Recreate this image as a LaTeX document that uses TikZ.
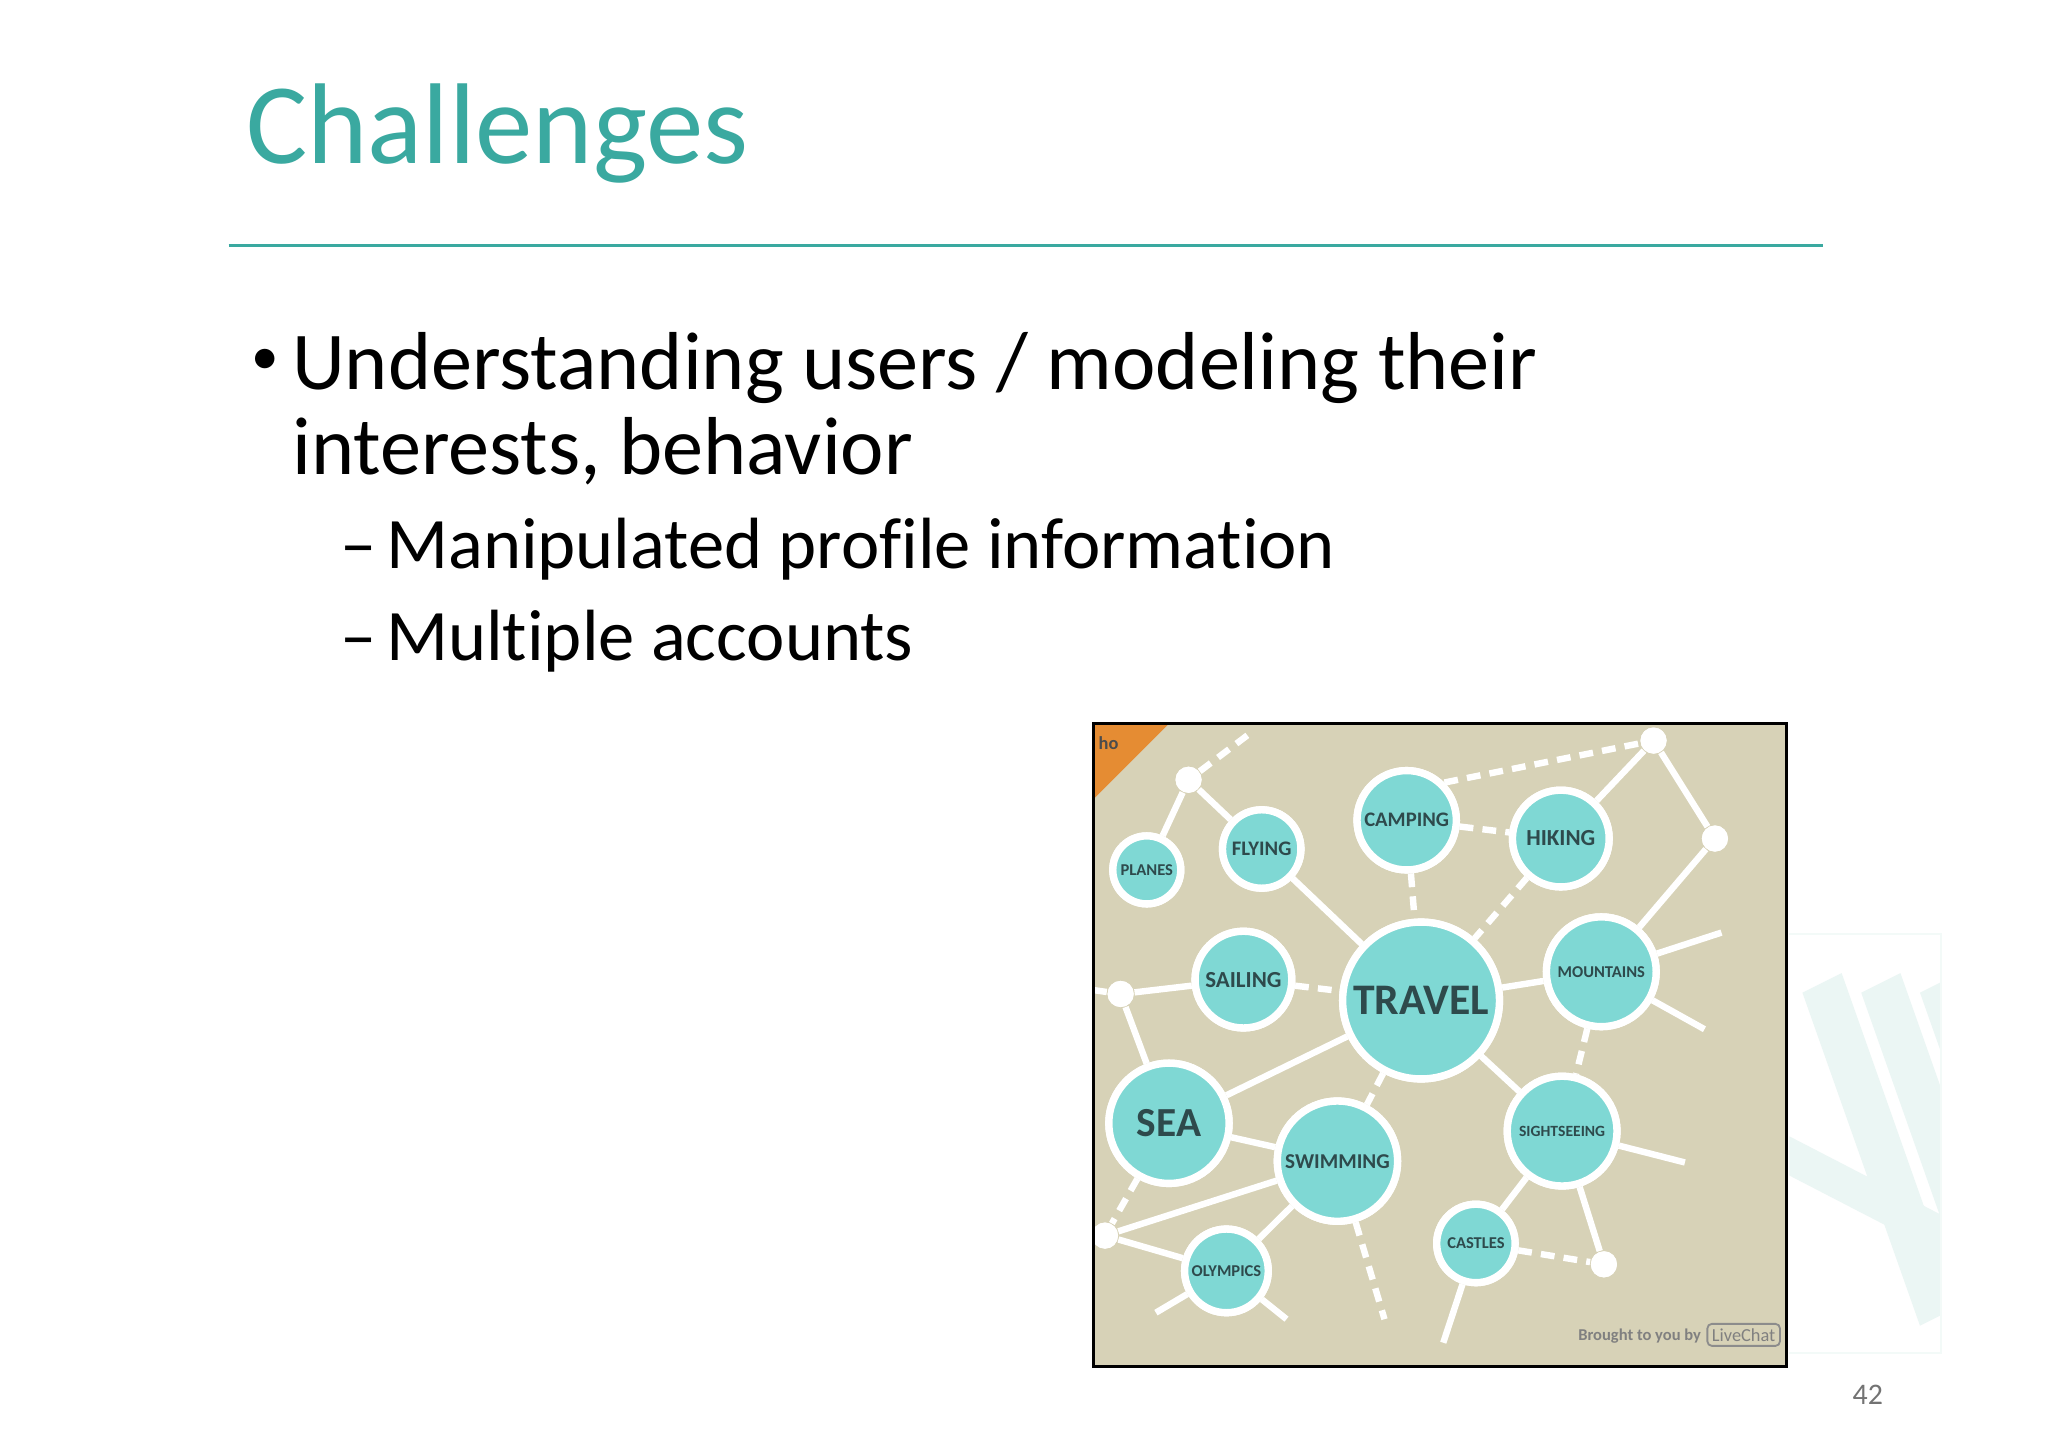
\documentclass[tikz,border=0pt]{standalone}
\usepackage{fontspec}
\setmainfont{Carlito}[Ligatures=NoCommon]
\begin{document}
\begin{tikzpicture}[x=0.01cm,y=-0.01cm,
  bub/.style={circle,draw=white,line width=1.6pt,fill=bubfill,text=bubtext,font=\bfseries,inner sep=0pt},
  dot/.style={circle,fill=white,inner sep=0pt,minimum size=0.2cm},
  ln/.style={white,line width=1.4pt},
  dl/.style={white,line width=1.4pt,dash pattern=on 3pt off 2pt}]
\definecolor{teal}{HTML}{3AA9A0}
\definecolor{bg}{HTML}{D7D2B7}
\definecolor{bubfill}{HTML}{7FD8D4}
\definecolor{bubtext}{HTML}{2E4A4C}
\definecolor{stripe}{HTML}{EBF6F4}
\useasboundingbox (0,0) rectangle (1568,1108);
\fill[white] (0,0) rectangle (1568,1108);
% title
\node[anchor=base west,inner sep=0pt,text=teal,font=\fontsize{25}{30}\selectfont] (title) at (188,125) {Challenges};
\draw[teal,line width=0.5pt] (175,188) coordinate (r1) -- (1396,188) coordinate (r2);
% bullets
\node[anchor=base west,inner sep=0pt,font=\fontsize{12}{14}\selectfont] (b) at (192,287) {•};
\node[anchor=base west,inner sep=0pt,font=\fontsize{17.9}{22}\selectfont] (l1) at (223,298) {Understanding users / modeling their};
\node[anchor=base west,inner sep=0pt,font=\fontsize{17.9}{22}\selectfont] (l2) at (223,363) {interests, behavior};
\node[anchor=base west,inner sep=0pt,font=\fontsize{15.8}{20}\selectfont] (d1t) at (260,435) {–};
\node[anchor=base west,inner sep=0pt,font=\fontsize{15.8}{20}\selectfont] (s1) at (295,435) {Manipulated profile information};
\node[anchor=base west,inner sep=0pt,font=\fontsize{15.8}{20}\selectfont] (d2t) at (260,506) {–};
\node[anchor=base west,inner sep=0pt,font=\fontsize{15.8}{20}\selectfont] (s2) at (295,506) {Multiple accounts};
% decoration stripes
\begin{scope}
\clip (1370,715) rectangle (1486,1036);
\foreach \dx in {0,45,90,135}{
  \fill[stripe] (1380+\dx,760) -- (1410+\dx,745) -- (1500+\dx,1000) -- (1470+\dx,1015) -- cycle;}
\fill[stripe] (1370,870) -- (1486,930) -- (1486,960) -- (1370,900) -- cycle;
\end{scope}
\draw[stripe!60!white] (1370,715) -- (1486,715) -- (1486,1036) -- (1370,1036);
\node[text=black!55,font=\fontsize{6.5}{8}\selectfont,inner sep=0pt] (pg) at (1430,1068) {42};
% image
\fill[bg] (837,554) rectangle (1368,1046);
\fill[orange!55!brown!90!white] (837,554) -- (895,554) -- (837,612) -- cycle;
\node[anchor=north west,inner sep=1pt,font=\bfseries\fontsize{4}{5}\selectfont,text=black!70] (ho) at (837,560) {ho};
\node[dot] (d1) at (910,597) {};
\node[dot] (d2) at (1266,567) {};
\node[dot] (d3) at (1313,642) {};
\node[dot] (d4) at (858,761) {};
\node[dot] (d5) at (1228,968) {};
\node[dot] (d6) at (846,946) {};
\coordinate (e1) at (955,563);
\coordinate (e2) at (1318,714);
\coordinate (e3) at (1305,788);
\coordinate (e4) at (830,757);
\coordinate (e5) at (1060,1010);
\coordinate (e6) at (830,950);
\coordinate (e7) at (885,1005);
\coordinate (e8) at (985,1010);
\coordinate (e9) at (1290,890);
\coordinate (e10) at (1105,1028);
\node[bub,minimum size=0.52cm,font=\bfseries\fontsize{3.6}{4}\selectfont] (planes) at (878,666) {PLANES};
\node[bub,minimum size=0.6cm,font=\bfseries\fontsize{4.5}{5}\selectfont] (flying) at (966,650) {FLYING};
\node[bub,minimum size=0.76cm,font=\bfseries\fontsize{4.5}{5}\selectfont] (camping) at (1077,628) {CAMPING};
\node[bub,minimum size=0.74cm,font=\bfseries\fontsize{5}{6}\selectfont] (hiking) at (1195,642) {HIKING};
\node[bub,minimum size=0.74cm,font=\bfseries\fontsize{5}{6}\selectfont] (sailing) at (952,750) {SAILING};
\node[bub,minimum size=1.2cm,font=\bfseries\fontsize{9.5}{10}\selectfont] (travel) at (1088,766) {TRAVEL};
\node[bub,minimum size=0.84cm,font=\bfseries\fontsize{3.6}{4}\selectfont] (mount) at (1226,744) {MOUNTAINS};
\node[bub,minimum size=0.92cm,font=\bfseries\fontsize{9}{10}\selectfont] (sea) at (895,860) {SEA};
\node[bub,minimum size=0.92cm,font=\bfseries\fontsize{4.6}{5}\selectfont] (swim) at (1024,889) {SWIMMING};
\node[bub,minimum size=0.84cm,font=\bfseries\fontsize{3.4}{4}\selectfont] (sight) at (1196,866) {SIGHTSEEING};
\node[bub,minimum size=0.6cm,font=\bfseries\fontsize{3.6}{4}\selectfont] (castles) at (1130,952) {CASTLES};
\node[bub,minimum size=0.64cm,font=\bfseries\fontsize{3.6}{4}\selectfont] (olym) at (939,973) {OLYMPICS};
\begin{scope}
\clip (837,554) rectangle (1368,1046);
\draw[ln] (planes) -- (d1);
\draw[ln] (flying) -- (d1);
\draw[dl] (d1) -- (e1);
\draw[ln] (flying) -- (travel);
\draw[dl] (camping) -- (travel);
\draw[dl] (camping) -- (hiking);
\draw[dl] (camping.north east) -- (d2);
\draw[ln] (hiking) -- (d2);
\draw[dl] (hiking) -- (travel);
\draw[ln] (d2) -- (d3);
\draw[ln] (d3) -- (mount);
\draw[ln] (mount) -- (travel);
\draw[ln] (mount) -- (e2);
\draw[ln] (mount) -- (e3);
\draw[dl] (mount) -- (sight);
\draw[ln] (sailing) -- (d4);
\draw[dl] (sailing) -- (travel);
\draw[ln] (d4) -- (e4);
\draw[ln] (d4) -- (sea);
\draw[ln] (sea) -- (travel);
\draw[ln] (sea) -- (swim);
\draw[dl] (sea) -- (d6);
\draw[dl] (travel) -- (swim);
\draw[ln] (travel) -- (sight);
\draw[ln] (swim) -- (d6);
\draw[ln] (swim) -- (olym);
\draw[dl] (swim) -- (e5);
\draw[ln] (d6) -- (olym);
\draw[ln] (d6) -- (e6);
\draw[ln] (olym) -- (e7);
\draw[ln] (olym) -- (e8);
\draw[ln] (sight) -- (castles);
\draw[ln] (sight) -- (e9);
\draw[ln] (sight) -- (d5);
\draw[dl] (castles) -- (d5);
\draw[ln] (castles) -- (e10);
\foreach \p/\s/\f/\t in {{878,666}/0.52/3.6/PLANES, {966,650}/0.6/4.5/FLYING, {1077,628}/0.76/4.5/CAMPING, {1195,642}/0.74/5/HIKING, {952,750}/0.74/5/SAILING, {1088,766}/1.2/9.5/TRAVEL, {1226,744}/0.84/3.6/MOUNTAINS, {895,860}/0.92/9/SEA, {1024,889}/0.92/4.6/SWIMMING, {1196,866}/0.84/3.4/SIGHTSEEING, {1130,952}/0.6/3.6/CASTLES, {939,973}/0.64/3.6/OLYMPICS}
  \node[bub,minimum size=\s cm,font=\bfseries\fontsize{\f}{5}\selectfont] at (\p) {\t};
\foreach \p in {{910,597},{1266,567},{1313,642},{858,761},{1228,968},{846,946}}
  \node[dot] at (\p) {};
\end{scope}
\node[anchor=base east,inner sep=0pt,text=black!50,font=\bfseries\fontsize{3.6}{4}\selectfont] (bt) at (1303,1026) {Brought to you by};
\node[draw=black!45,rounded corners=1pt,inner sep=1pt,text=black!50,font=\fontsize{4}{5}\selectfont] (lc) at (1335,1022) {LiveChat};
\draw[black,line width=0.6pt] (837,554) rectangle (1368,1046);
\end{tikzpicture}
\end{document}
